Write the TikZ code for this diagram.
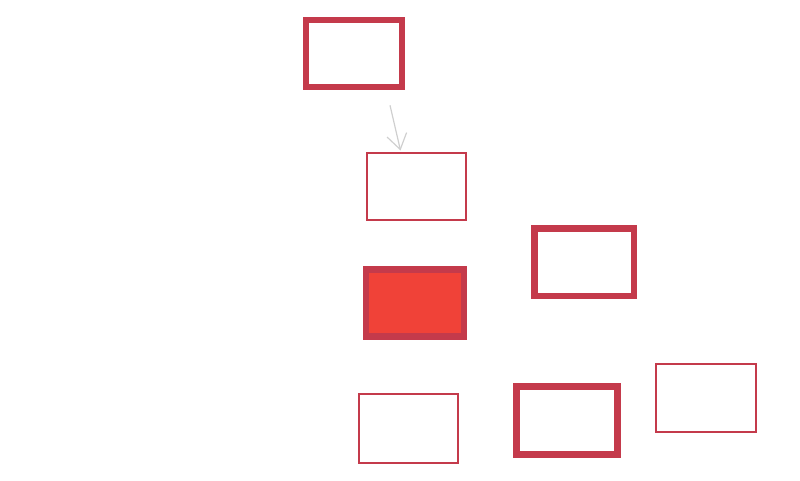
\documentclass[tikz,border=0pt]{standalone}
\usetikzlibrary{arrows.meta,positioning}

\definecolor{inkred}{HTML}{C43A4B}
\definecolor{firered}{HTML}{F04238}
\definecolor{pencil}{HTML}{CFCFCF}

\begin{document}
\begin{tikzpicture}[
    x=1pt, y=-1pt,
    box/.style={draw=inkred, fill=white, inner sep=0pt, minimum width=99pt, minimum height=67pt},
    thinbox/.style={box, line width=2pt},
    thickbox/.style={box, line width=6.5pt},
    hotbox/.style={thickbox, fill=firered}
]
    \useasboundingbox (0,0) rectangle (800,480);

    % Colonne centrale
    \node[thickbox, minimum width=96pt] (root) at (354,53.5) {};
    \node[thinbox] (step1) at (416.5,186) {};
    \node[hotbox, minimum width=98pt] (active) at (415,303) {};
    \node[thinbox, minimum height=69pt] (leafa) at (408.5,428.5) {};

    % Branche droite
    \node[thickbox, minimum width=99.5pt, minimum height=67.5pt] (side) at (584,262) {};
    \node[thickbox, minimum width=101pt, minimum height=68pt] (leafb) at (567,420.5) {};
    \node[thinbox, minimum width=100pt, minimum height=68pt] (leafc) at (706,398) {};

    % Flèche
    \draw[-{Straight Barb[length=15pt,width=20pt]}, line width=1.2pt, draw=pencil]
        ([xshift=36pt,yshift=-15pt]root.south) -- ([xshift=-16pt,yshift=1pt]step1.north);

\end{tikzpicture}
\end{document}
